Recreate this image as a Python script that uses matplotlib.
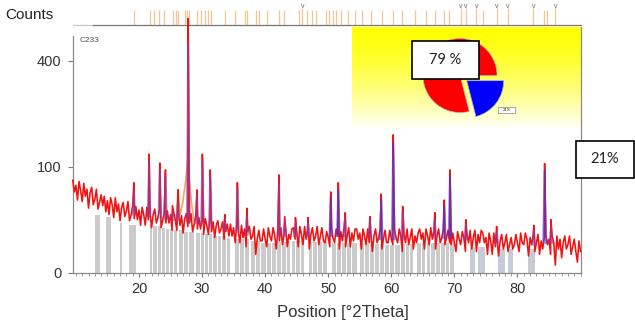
import numpy as np
import matplotlib
matplotlib.use("Agg")
import matplotlib.pyplot as plt
from matplotlib.patches import Rectangle

plt.rcParams["font.family"] = ["Liberation Sans", "DejaVu Sans"]

# observed pattern, sampled every 0.25 deg from 9.5 to 90.0 (counts)
obs_start, obs_step = 9.5, 0.25
obs_bg = [76, 58, 68, 47, 74, 60, 45, 71, 52, 62, 37, 57, 65, 41, 48, 62, 36, 44, 54, 40,
          52, 33, 46, 30, 50, 41, 27, 50, 33, 42, 24, 38, 44, 28, 34, 45, 24, 30, 40, 26,
          39, 25, 35, 20, 38, 30, 20, 38, 25, 32, 18, 30, 36, 22, 27, 36, 18, 24, 32, 22,
          34, 22, 30, 16, 33, 25, 16, 33, 20, 29, 14, 26, 31, 19, 22, 31, 15, 21, 29, 17,
          27, 17, 25, 13, 26, 20, 13, 27, 15, 23, 11, 20, 24, 14, 17, 23, 10, 15, 21, 12,
          21, 12, 18, 8, 20, 15, 8, 20, 11, 17, 6, 15, 19, 10, 12, 19, 3, 10, 16, 9,
          9, 17, 10, 6, 18, 12, 9, 18, 13, 5, 15, 9, 18, 7, 13, 18, 6, 13, 10, 17,
          18, 10, 15, 6, 19, 13, 7, 19, 10, 16, 5, 13, 18, 9, 12, 19, 7, 12, 18, 9,
          8, 15, 11, 6, 18, 11, 8, 17, 12, 5, 15, 9, 18, 6, 12, 18, 6, 14, 9, 17,
          17, 10, 14, 5, 17, 12, 7, 17, 8, 14, 4, 12, 17, 8, 11, 17, 5, 10, 16, 8,
          8, 16, 10, 7, 17, 11, 8, 17, 12, 4, 14, 8, 17, 7, 11, 17, 5, 12, 8, 14,
          17, 10, 14, 5, 17, 12, 7, 18, 10, 15, 5, 12, 17, 8, 11, 17, 7, 11, 16, 8,
          7, 14, 8, 4, 15, 10, 7, 15, 11, 4, 13, 8, 16, 5, 11, 16, 4, 13, 8, 16,
          14, 8, 11, 3, 14, 9, 3, 14, 6, 11, 2.5, 9, 13, 5, 8, 13, 4, 7, 11, 5,
          7, 13, 8, 4, 14, 8, 7, 14, 10, 2.5, 11, 7, 13, 4, 8, 13, 3, 9, 5, 11,
          13, 7, 10, 3, 12, 8, 0.5, 12, 5, 10, 2, 8, 12, 5, 7, 12, 3, 6, 10, 4,
          1, 9, 4]

# peaks: position, observed top, calculated top, base level, phase
peak_pos = [19.2, 21.6, 23.3, 24.2, 25.3, 26.2, 27.8, 29.2, 30.05, 31.3,
            33.6, 35.6, 37.1, 42.2, 43.1, 44.8, 46.8, 50.4, 51.6, 52.7,
            56.6, 58.4, 60.3, 61.8, 66.9, 68.4, 69.3, 71.8, 76.7, 82.6,
            84.3, 85.3]
peak_obs = [72, 125, 107, 94, 40, 61, 575, 61, 125, 94,
            30, 72, 37, 85, 28, 27, 27, 58, 72, 32,
            28, 55, 169, 39, 32, 47, 94, 25, 19, 20,
            106, 25]
peak_calc = [60, 110, 95, 85, 33, 45, 470, 52, 110, 82,
             26, 64, 28, 70, 23, 22, 22, 50, 62, 27,
             24, 48, 150, 34, 25, 40, 82, 20, 15, 16,
             92, 18]
peak_base = [30, 28, 27, 26, 25, 25, 24, 22, 21, 19,
             16, 15, 13, 12, 12, 12, 12, 12, 12, 12,
             11, 10, 10, 10, 11, 11, 11, 10, 8, 7,
             8, 8]
peak_phase = ["a", "a", "a", "a", "a", "a", "a", "a", "a", "a",
              "a", "a", "a", "a", "a", "a", "a", "b", "b", "a",
              "a", "b", "b", "a", "a", "b", "b", "a", "a", "a",
              "b", "a"]

# second reference profile (tan) around the strongest reflection
tan_x = [25.9, 26.2, 26.5, 26.9, 27.4, 27.7, 27.8, 27.95, 28.3, 28.7]
tan_y = [25, 62, 30, 42, 75, 110, 135, 80, 45, 24]

# grey phase sticks under the pattern: start, end, top (counts)
gray_lo = [13.1, 14.7, 17.0, 18.4, 19.1,
           21.7, 22.3, 22.95, 23.65, 24.25, 24.9, 25.55, 26.4, 27.15, 27.9,
           29.05, 29.8, 30.45, 31.05, 31.8, 32.45, 33.2, 33.95,
           35.2, 35.95, 36.75,
           37.8, 38.55, 39.4, 40.25, 41.1, 41.85, 42.7, 43.45, 44.2, 44.95, 45.65,
           46.9, 47.65, 48.35, 49.15,
           50.6, 51.35, 52.2, 52.95, 53.75,
           55.1, 55.85, 56.7, 57.4, 58.15, 59.0, 59.75, 60.55, 61.5, 62.25, 62.95,
           64.1, 64.85, 65.6, 66.35, 67.15, 67.9, 68.65, 69.35,
           72.4, 73.7, 76.9, 78.5, 81.7]
gray_hi = [13.8, 15.6, 17.3, 19.0, 19.6,
           22.1, 22.8, 23.5, 24.1, 24.7, 25.4, 26.1, 27.0, 27.7, 28.8,
           29.6, 30.3, 30.9, 31.6, 32.3, 33.0, 33.8, 34.5,
           35.8, 36.6, 37.4,
           38.4, 39.2, 40.1, 40.9, 41.7, 42.5, 43.3, 44.0, 44.8, 45.5, 46.1,
           47.5, 48.2, 49.0, 49.8,
           51.2, 52.0, 52.8, 53.6, 54.6,
           55.7, 56.5, 57.2, 58.0, 58.8, 59.6, 60.4, 61.3, 62.1, 62.8, 63.4,
           64.7, 65.4, 66.2, 67.0, 67.7, 68.5, 69.2, 70.0,
           73.2, 74.8, 78.0, 79.3, 82.8]
gray_top = [30, 28, 22, 20, 20,
            20, 19, 19, 18, 17, 17, 16, 16, 15, 15,
            14, 14, 13, 13, 12, 12, 12, 11,
            10, 10, 10,
            9, 9, 8, 8, 8, 8.5, 8.5, 9, 9, 9, 9,
            8.5, 8.5, 8.5, 8.5,
            8, 8, 8, 8, 8,
            8, 8, 7.5, 7.5, 7.5, 7, 7, 7, 7.5, 7.5, 7.5,
            8, 8, 8, 8, 8, 8, 8, 8,
            6, 6, 5, 5, 5]

# reference line positions in the top strip
stick_pos = [19.2, 21.7, 22.4, 23.2, 24.0, 25.4, 25.9, 26.2, 27.3, 27.6,
             27.9, 29.2, 29.8, 30.5, 31.0, 31.4, 33.7, 35.3, 36.8, 37.2,
             38.6, 39.0, 40.3, 42.2, 43.0, 45.3, 46.6, 47.5, 48.0, 49.6,
             50.1, 50.7, 51.3, 52.1, 53.2, 54.3, 55.4, 56.8, 58.6, 60.3,
             61.7, 63.8, 65.5, 67.0, 68.4, 69.1, 74.5, 84.2, 84.7]
v_pos = [45.9, 71.0, 71.8, 73.5, 76.7, 78.5, 82.5, 86.0]

pie_vals = [79, 21]
pie_labels = ["79 %", "21%"]

W, H = 635, 327


def box(l, t, r, b):
    return [l / W, 1 - b / H, (r - l) / W, (b - t) / H]


fig = plt.figure(figsize=(W / 100, H / 100), dpi=100)

# ---- main pattern
ax = fig.add_axes(box(73, 27, 581, 272.7))
ax.set_yscale("function", functions=(lambda v: np.sqrt(np.clip(v, 0, None)), lambda v: v ** 2))
ax.set_xlim(9.54, 90.07)
ax.set_ylim(0, 537)

for lo, hi, top in zip(gray_lo, gray_hi, gray_top):
    col = "#c6cbd6" if lo > 71 else "#cbcbcb"
    ax.bar(lo, top, width=hi - lo, align="edge", color=col, linewidth=0, zorder=1)

ax.plot(tan_x, tan_y, color="#f2a860", lw=1.2, zorder=2)

gx = obs_start + obs_step * np.arange(len(obs_bg))
ox = np.concatenate([gx, peak_pos])
oy = np.concatenate([obs_bg, peak_obs])
order = np.argsort(ox, kind="stable")
ax.plot(ox[order], oy[order], color="#f21212", lw=1.15, zorder=3, clip_on=False)

phase_col = {"a": "#9040a8", "b": "#3a3ae6"}
for p, c, b, ph in zip(peak_pos, peak_calc, peak_base, peak_phase):
    ax.plot([p - 0.2, p, p + 0.2], [b, c, b], color=phase_col[ph], lw=1.5,
            alpha=0.6, zorder=4)

ax.set_xticks([20, 30, 40, 50, 60, 70, 80])
ax.set_xticks(np.arange(10, 91, 1), minor=True)
ax.set_yticks([0, 100, 400])
ax.tick_params(axis="x", which="major", length=3, width=0.8, color="#777",
               labelsize=10.5, labelcolor="#333", pad=4)
ax.tick_params(axis="x", which="minor", length=2, width=0.6, color="#888")
ax.tick_params(axis="y", which="major", length=3.5, width=0.8, color="#777",
               labelsize=10.5, labelcolor="#333", pad=5)
ax.tick_params(axis="y", which="minor", length=0)
ax.spines["top"].set_visible(False)
for s in ("left", "bottom", "right"):
    ax.spines[s].set_color("#8a8a8a")
    ax.spines[s].set_linewidth(0.9)
ax.spines["left"].set_bounds(0, 499)
ax.patch.set_alpha(0)

# ---- yellow panel behind the pie
gax = fig.add_axes(box(352, 27, 581, 130), zorder=-1)
t = np.linspace(0, 1, 200) ** 1.4
grad = np.stack([np.ones_like(t), np.ones_like(t), t], axis=1)[:, None, :]
gax.imshow(grad, aspect="auto", extent=(0, 1, 0, 1))
gax.set_axis_off()
ax.set_zorder(1)

# ---- pie
cx, cy, r = 460, 75.5, 37
pax = fig.add_axes(box(cx - 45, cy - 45, cx + 45, cy + 45), zorder=2)
pax.pie(pie_vals, colors=["#ff0000", "#0000ff"], startangle=0, counterclock=True,
        explode=[0, 0.23], wedgeprops=dict(edgecolor="#b0b0b0", linewidth=0.5))
pax.set_xlim(-45 / r, 45 / r)
pax.set_ylim(-45 / r, 45 / r)
pax.set_aspect("equal")

# ---- top strip with reference lines
sax = fig.add_axes(box(73, 3, 581, 25.5))
sax.set_xlim(9.54, 90.07)
sax.set_ylim(0, 1)
sax.set_axis_off()
sax.vlines(stick_pos, 0, 0.69, color="#f5c594", lw=0.9)
sax.vlines(v_pos, 0, 0.8, color="#f5c594", lw=0.9)
for p in v_pos:
    sax.text(p, 0.86, "v", fontsize=5, color="#666", ha="center", va="center")
sax.vlines([27.8], 0, 0.3, color="#f04020", lw=1.0)
sax.plot([9.54, 12.7], [0.02, 0.02], color="#c8c8c8", lw=0.9, clip_on=False)
sax.plot([12.7, 90.07], [0.02, 0.02], color="#777", lw=0.9, clip_on=False)

# ---- texts and boxes
fig.text(5 / W, 1 - 15 / H, "Counts", fontsize=11, color="#222", va="center", ha="left")
fig.text(80 / W, 1 - 41 / H, "C233", fontsize=6, color="#555", va="center", ha="left")
fig.text(343 / W, 1 - 312 / H, "Position [°2Theta]", fontsize=12, color="#333",
         ha="center", va="center")


def label_box(l, t, rr, b, txt, size, lw=1.2, ec="black"):
    fig.add_artist(Rectangle((l / W, 1 - b / H), (rr - l) / W, (b - t) / H,
                             transform=fig.transFigure, facecolor="white",
                             edgecolor=ec, linewidth=lw, zorder=5))
    fig.text((l + rr) / 2 / W, 1 - (t + b) / 2 / H, txt, fontsize=size,
             family=["Lato", "DejaVu Sans"], color="#222",
             ha="center", va="center", zorder=6)


label_box(412, 41, 479, 79, pie_labels[0], 10.5)
label_box(576, 141, 634, 178, pie_labels[1], 10.5)
label_box(498, 107, 515, 112.5, pie_labels[1], 3, lw=0.6, ec="#999")

fig.savefig("out.png", dpi=100)
